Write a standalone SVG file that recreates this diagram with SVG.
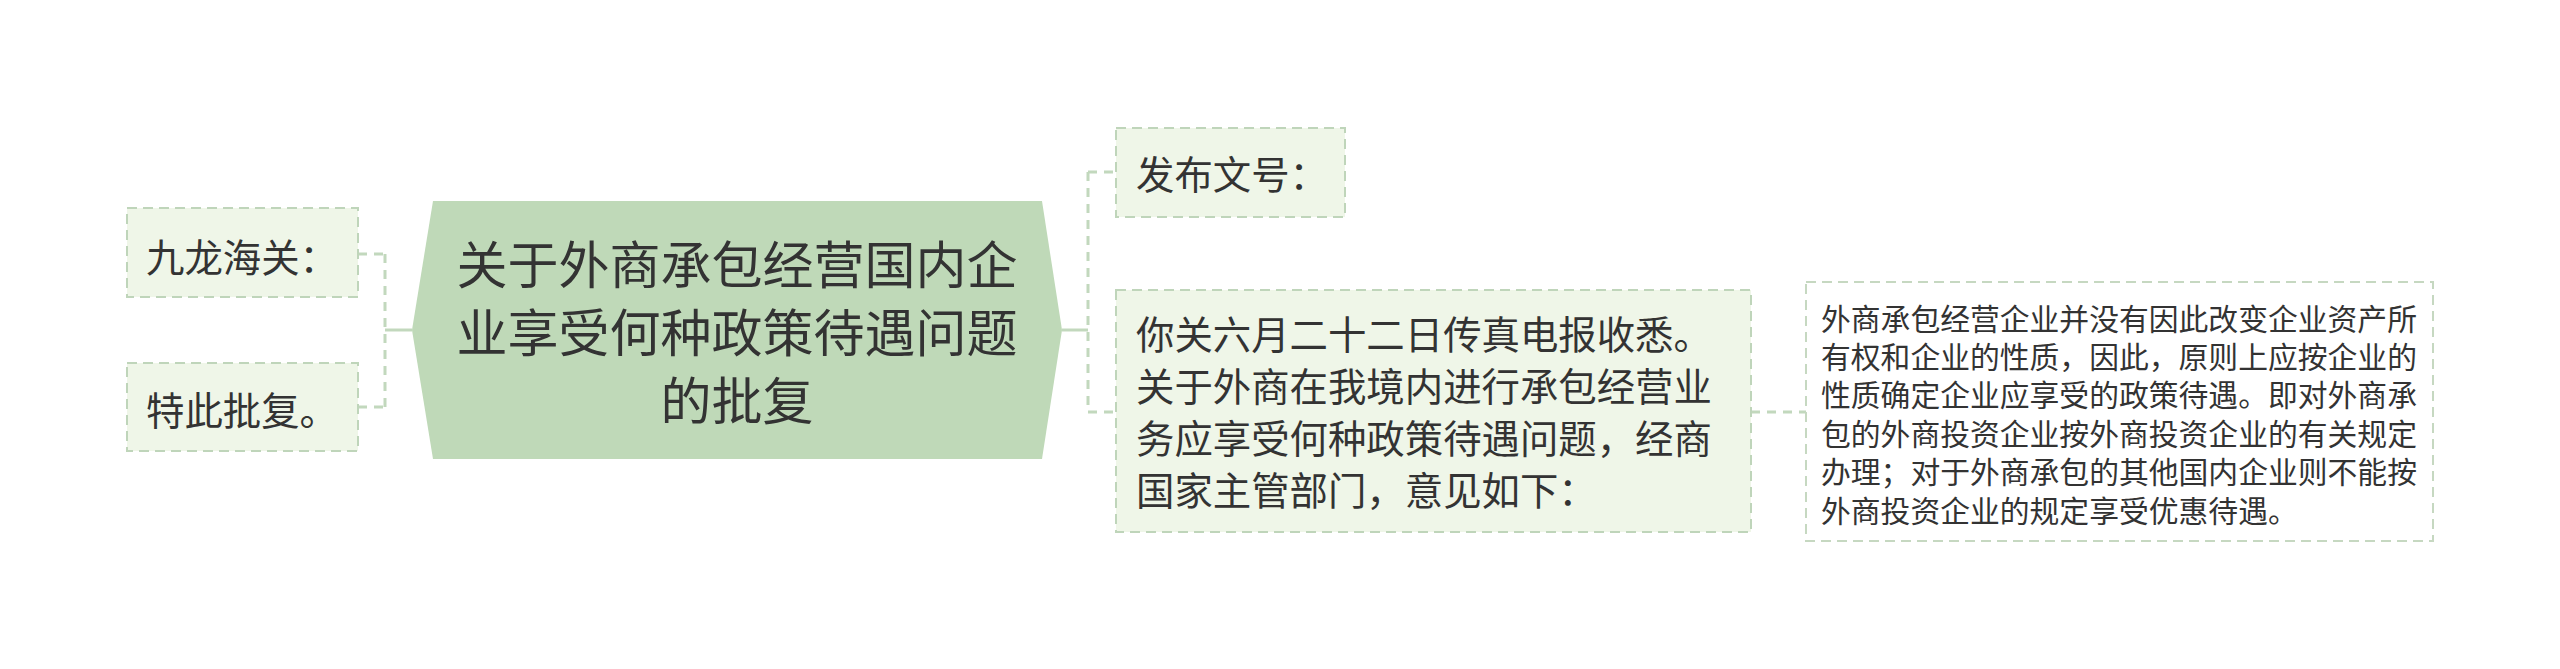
<svg xmlns="http://www.w3.org/2000/svg" width="2560" height="669" viewBox="0 0 2560 669">
<style>
.t{font-family:"Noto Sans CJK SC","Noto Sans",sans-serif;fill:#333333;dominant-baseline:central}
.box{fill:#eff6e8;stroke:#bfd5ba;stroke-width:2;stroke-dasharray:10 6}
.wbox{fill:#ffffff;stroke:#c6d8c1;stroke-width:2;stroke-dasharray:10 6}
.c{fill:none;stroke:#c2d8bd;stroke-width:3}
.cd{fill:none;stroke:#c2d8bd;stroke-width:3;stroke-dasharray:9 7}
</style>
<rect width="2560" height="669" fill="#ffffff"/>
<g id="connectors">
<path class="c" d="M412 330 H385"/>
<path class="cd" d="M385 254 V407"/>
<path class="cd" d="M358 254 H385 M358 407 H385"/>
<path class="c" d="M1062 330 H1088"/>
<path class="cd" d="M1088 172 V412"/>
<path class="cd" d="M1088 172 H1116 M1088 412 H1116"/>
<path class="cd" d="M1751 412 H1806"/>
</g>
<g id="center">
<polygon points="433,201 1042,201 1062,330 1042,459 433,459 412,330" fill="#bfd9b8"/>
<text class="t" font-size="51" text-anchor="middle"><tspan x="737" y="262">关于外商承包经营国内企</tspan><tspan x="737" y="330">业享受何种政策待遇问题</tspan><tspan x="737" y="398">的批复</tspan></text>
</g>
<g id="n-jiulong">
<rect class="box" x="127" y="208" width="231" height="89"/>
<text class="t" font-size="38.4" x="146" y="255">九龙海关：</text>
</g>
<g id="n-tecipifu">
<rect class="box" x="127" y="363" width="231" height="88"/>
<text class="t" font-size="38.4" x="146" y="408">特此批复。</text>
</g>
<g id="n-fabu">
<rect class="box" x="1116" y="128" width="229" height="89"/>
<text class="t" font-size="38.4" x="1136" y="172">发布文号：</text>
</g>
<g id="n-niguan">
<rect class="box" x="1116" y="290" width="635" height="242"/>
<text class="t" font-size="38.4"><tspan x="1136" y="332">你关六月二十二日传真电报收悉。</tspan><tspan x="1136" y="384">关于外商在我境内进行承包经营业</tspan><tspan x="1136" y="436">务应享受何种政策待遇问题，经商</tspan><tspan x="1136" y="488">国家主管部门，意见如下：</tspan></text>
</g>
<g id="n-detail">
<rect class="wbox" x="1806" y="282" width="627" height="259"/>
<text class="t" font-size="29.8"><tspan x="1821" y="316.5">外商承包经营企业并没有因此改变企业资产所</tspan><tspan x="1821" y="354.9">有权和企业的性质，因此，原则上应按企业的</tspan><tspan x="1821" y="393.3">性质确定企业应享受的政策待遇。即对外商承</tspan><tspan x="1821" y="431.7">包的外商投资企业按外商投资企业的有关规定</tspan><tspan x="1821" y="470.1">办理；对于外商承包的其他国内企业则不能按</tspan><tspan x="1821" y="508.5">外商投资企业的规定享受优惠待遇。</tspan></text>
</g>
</svg>
